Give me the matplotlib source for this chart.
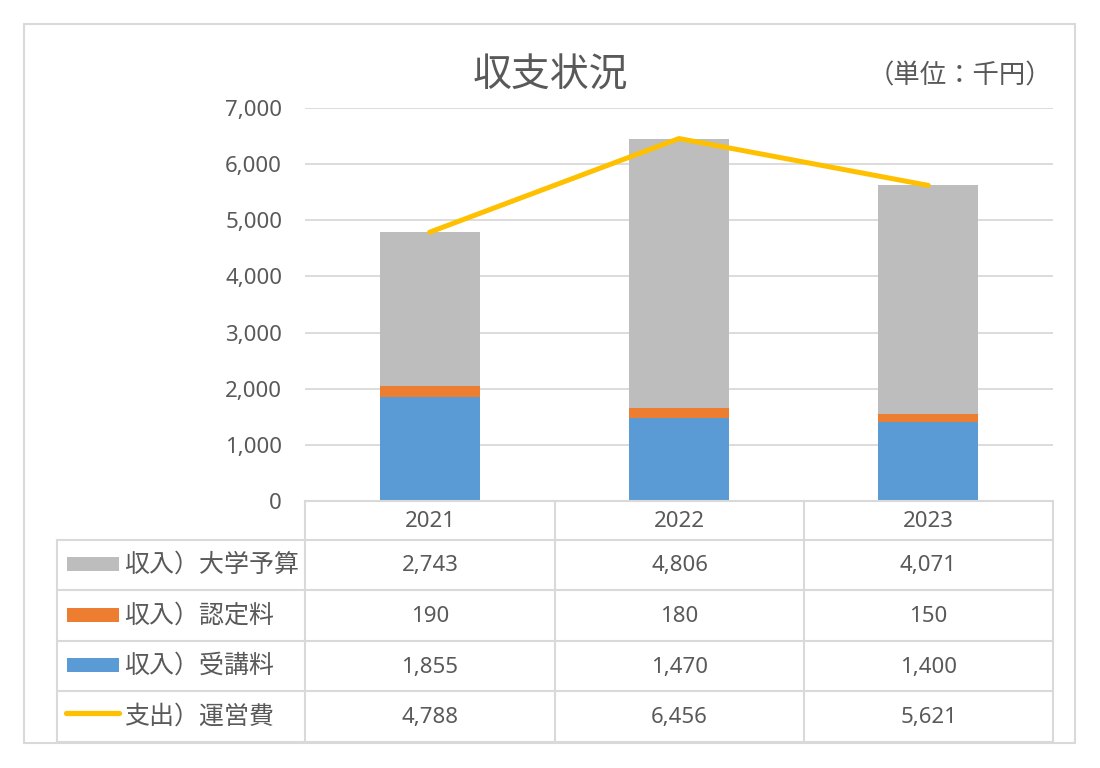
import matplotlib
matplotlib.use("Agg")
import matplotlib.pyplot as plt
from matplotlib.lines import Line2D
from matplotlib.patches import Rectangle
import numpy as np

plt.rcParams['font.family'] = ['Noto Sans CJK JP', 'DejaVu Sans']
NUMFONT = ['Noto Sans', 'Noto Sans CJK JP']

years = ['2021', '2022', '2023']
budget = [2743, 4806, 4071]       # 収入）大学予算
cert_fee = [190, 180, 150]        # 収入）認定料
tuition = [1855, 1470, 1400]      # 収入）受講料
expense = [4788, 6456, 5621]      # 支出）運営費

labels = ['収入）大学予算', '収入）認定料', '収入）受講料', '支出）運営費']
title = '収支状況'
unit = '（単位：千円）'
yticks = [0, 1000, 2000, 3000, 4000, 5000, 6000, 7000]

c_gray = '#BDBDBD'
c_orange = '#ED7D31'
c_blue = '#5B9BD5'
c_yellow = '#FFC000'
c_text = '#595959'
c_grid = '#D9D9D9'

W, H = 1100, 768
fig = plt.figure(figsize=(W / 100, H / 100), dpi=100)

def fx(x):
    return x / W

def fy(y):
    return 1 - y / H

# plot area
left, right, top, bottom = 305, 1053, 108, 501
ax = fig.add_axes([fx(left), fy(bottom), fx(right) - fx(left), fy(top) - fy(bottom)])
x = np.arange(len(years))
bw = 0.4
ax.bar(x, tuition, bw, color=c_blue, zorder=3)
ax.bar(x, cert_fee, bw, bottom=tuition, color=c_orange, zorder=3)
bot2 = np.array(tuition) + np.array(cert_fee)
ax.bar(x, budget, bw, bottom=bot2, color=c_gray, zorder=3)
ax.plot(x, expense, color=c_yellow, lw=3.6, solid_capstyle='round', zorder=4)
ax.set_xlim(-0.5, 2.5)
ax.set_ylim(0, 7000)
ax.set_yticks(yticks)
ax.set_yticklabels([f'{v:,}' for v in yticks], color=c_text, fontsize=16, family=NUMFONT)
ax.set_xticks([])
ax.tick_params(axis='y', length=0, pad=16.5)
ax.grid(axis='y', color=c_grid, lw=1.3, zorder=0)
for s in ['top', 'right', 'left', 'bottom']:
    ax.spines[s].set_visible(False)

# outer border
fig.add_artist(Rectangle((fx(24), fy(743)), fx(1075) - fx(24), fy(24) - fy(743),
                         fill=False, edgecolor=c_grid, lw=1.5, transform=fig.transFigure))

# title and unit
fig.text(fx(550), fy(76), title, ha='center', va='center', fontsize=28, color=c_text)
fig.text(fx(1052), fy(76), unit, ha='right', va='center', fontsize=19, color=c_text)

# data table lines
def hline(y, x0, x1):
    fig.add_artist(Line2D([fx(x0), fx(x1)], [fy(y), fy(y)], color=c_grid, lw=1.5,
                          transform=fig.transFigure))

def vline(x0, y0, y1):
    fig.add_artist(Line2D([fx(x0), fx(x0)], [fy(y0), fy(y1)], color=c_grid, lw=1.5,
                          transform=fig.transFigure))

col_x = [305, 555, 804, 1053]
row_y = [501, 540, 590, 641, 691, 742]
hline(501, 305, 1053)
for y in row_y[1:]:
    hline(y, 57, 1053)
for cx in col_x:
    vline(cx, 501, 742)
vline(57, 540, 742)

# header
for i, yr in enumerate(years):
    fig.text(fx((col_x[i] + col_x[i + 1]) / 2), fy((row_y[0] + row_y[1]) / 2 + 1), yr,
             ha='center', va='center', fontsize=16, color=c_text, family=NUMFONT)

series = [budget, cert_fee, tuition, expense]
colors = [c_gray, c_orange, c_blue, c_yellow]
for r, (lab, vals, col) in enumerate(zip(labels, series, colors)):
    yc = (row_y[r + 1] + row_y[r + 2]) / 2
    if r < 3:
        fig.add_artist(Rectangle((fx(67), fy(yc - 1 + 7)), fx(119) - fx(67), 14 / H,
                                 facecolor=col, edgecolor='none', transform=fig.transFigure))
    else:
        fig.add_artist(Line2D([fx(66), fx(119)], [fy(yc - 4), fy(yc - 4)], color=col, lw=3.8,
                              solid_capstyle='round', transform=fig.transFigure))
    fig.text(fx(124), fy(yc), lab, ha='left', va='center', fontsize=18, color=c_text)
    for i, v in enumerate(vals):
        fig.text(fx((col_x[i] + col_x[i + 1]) / 2), fy(yc + 1), f'{v:,}',
                 ha='center', va='center', fontsize=16, color=c_text, family=NUMFONT)

fig.savefig('out.png', dpi=100, facecolor='white')
